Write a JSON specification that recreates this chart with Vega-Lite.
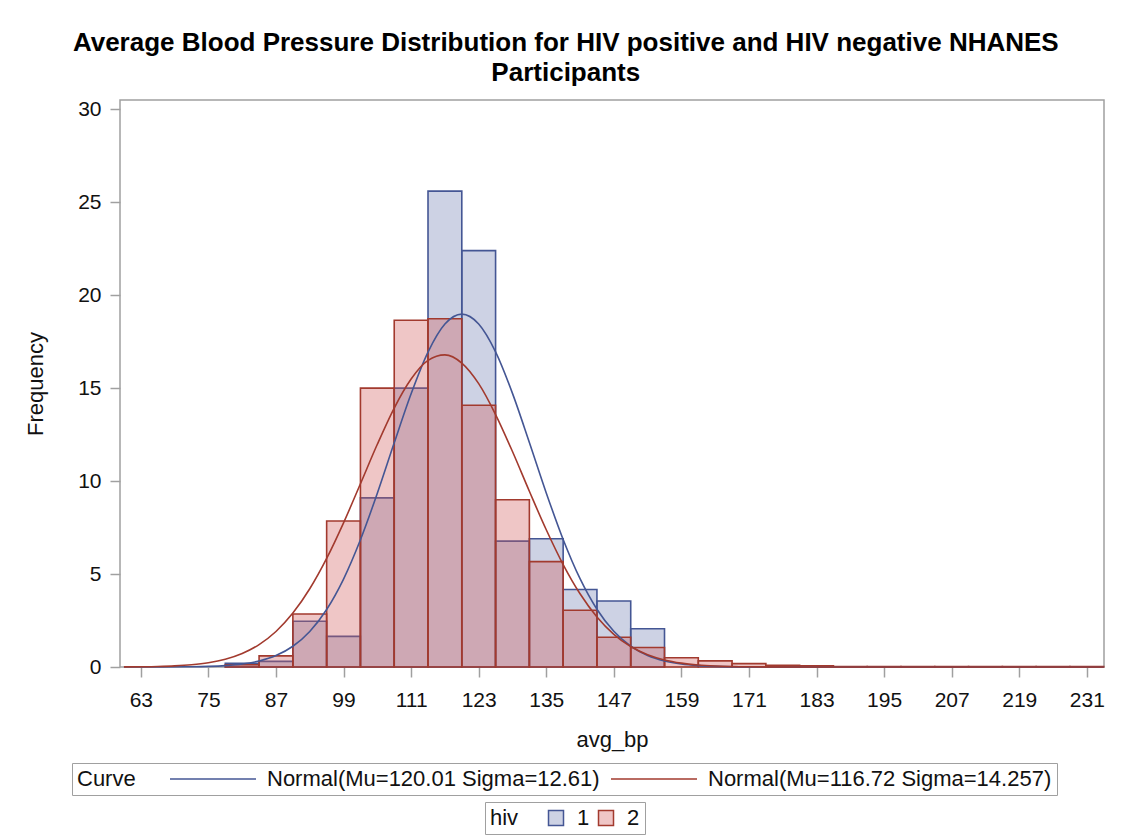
{
  "$schema": "https://vega.github.io/schema/vega-lite/v6.json",
  "width": 984,
  "height": 567,
  "autosize": {"type": "none"},
  "padding": {"left": 120, "top": 100, "right": 19, "bottom": 168},
  "background": "white",
  "title": {
    "text": ["Average Blood Pressure Distribution for HIV positive and HIV negative NHANES", "Participants"],
    "fontSize": 26,
    "fontWeight": "bold",
    "font": "Liberation Sans",
    "color": "#000000",
    "anchor": "middle",
    "frame": "bounds",
    "offset": 12,
    "lineHeight": 30
  },
  "config": {
    "font": "Liberation Sans",
    "view": {"stroke": "#A0A0A0", "strokeWidth": 1.5},
    "axis": {
      "grid": false,
      "domain": false,
      "tickColor": "#A0A0A0",
      "tickWidth": 1.5,
      "tickSize": 10,
      "labelFontSize": 21,
      "titleFontSize": 22,
      "titleFontWeight": "normal",
      "labelColor": "#111111",
      "titleColor": "#111111"
    },
    "legend": {
      "labelFontSize": 22,
      "titleFontSize": 22,
      "titleFontWeight": "normal",
      "labelColor": "#111111",
      "titleColor": "#111111",
      "labelLimit": 600
    }
  },
  "datasets": {
    "bars": [
      {"hiv": "1", "lo": 78, "hi": 84, "pct": 0.2},
      {"hiv": "1", "lo": 84, "hi": 90, "pct": 0.3},
      {"hiv": "1", "lo": 90, "hi": 96, "pct": 2.46},
      {"hiv": "1", "lo": 96, "hi": 102, "pct": 1.65},
      {"hiv": "1", "lo": 102, "hi": 108, "pct": 9.1},
      {"hiv": "1", "lo": 108, "hi": 114, "pct": 15.0},
      {"hiv": "1", "lo": 114, "hi": 120, "pct": 25.6},
      {"hiv": "1", "lo": 120, "hi": 126, "pct": 22.4},
      {"hiv": "1", "lo": 126, "hi": 132, "pct": 6.77},
      {"hiv": "1", "lo": 132, "hi": 138, "pct": 6.9},
      {"hiv": "1", "lo": 138, "hi": 144, "pct": 4.17},
      {"hiv": "1", "lo": 144, "hi": 150, "pct": 3.55},
      {"hiv": "1", "lo": 150, "hi": 156, "pct": 2.06},
      {"hiv": "2", "lo": 78, "hi": 84, "pct": 0.12},
      {"hiv": "2", "lo": 84, "hi": 90, "pct": 0.6},
      {"hiv": "2", "lo": 90, "hi": 96, "pct": 2.85},
      {"hiv": "2", "lo": 96, "hi": 102, "pct": 7.85},
      {"hiv": "2", "lo": 102, "hi": 108, "pct": 15.0},
      {"hiv": "2", "lo": 108, "hi": 114, "pct": 18.65},
      {"hiv": "2", "lo": 114, "hi": 120, "pct": 18.73},
      {"hiv": "2", "lo": 120, "hi": 126, "pct": 14.08},
      {"hiv": "2", "lo": 126, "hi": 132, "pct": 9.0},
      {"hiv": "2", "lo": 132, "hi": 138, "pct": 5.67},
      {"hiv": "2", "lo": 138, "hi": 144, "pct": 3.05},
      {"hiv": "2", "lo": 144, "hi": 150, "pct": 1.6},
      {"hiv": "2", "lo": 150, "hi": 156, "pct": 1.05},
      {"hiv": "2", "lo": 156, "hi": 162, "pct": 0.5},
      {"hiv": "2", "lo": 162, "hi": 168, "pct": 0.33},
      {"hiv": "2", "lo": 168, "hi": 174, "pct": 0.18},
      {"hiv": "2", "lo": 174, "hi": 180, "pct": 0.09},
      {"hiv": "2", "lo": 180, "hi": 186, "pct": 0.07},
      {"hiv": "2", "lo": 186, "hi": 192, "pct": 0.02},
      {"hiv": "2", "lo": 192, "hi": 198, "pct": 0.02},
      {"hiv": "2", "lo": 198, "hi": 204, "pct": 0.02},
      {"hiv": "2", "lo": 204, "hi": 210, "pct": 0.02},
      {"hiv": "2", "lo": 210, "hi": 216, "pct": 0.02},
      {"hiv": "2", "lo": 216, "hi": 222, "pct": 0.02},
      {"hiv": "2", "lo": 222, "hi": 228, "pct": 0.02},
      {"hiv": "2", "lo": 228, "hi": 234, "pct": 0.02}
    ],
    "curves": [
      {"curve": "Normal(Mu=120.01 Sigma=12.61)", "x": 60, "f": 0.0002},
      {"curve": "Normal(Mu=120.01 Sigma=12.61)", "x": 66, "f": 0.002},
      {"curve": "Normal(Mu=120.01 Sigma=12.61)", "x": 72, "f": 0.0135},
      {"curve": "Normal(Mu=120.01 Sigma=12.61)", "x": 75, "f": 0.0325},
      {"curve": "Normal(Mu=120.01 Sigma=12.61)", "x": 78, "f": 0.074},
      {"curve": "Normal(Mu=120.01 Sigma=12.61)", "x": 81, "f": 0.158},
      {"curve": "Normal(Mu=120.01 Sigma=12.61)", "x": 84, "f": 0.322},
      {"curve": "Normal(Mu=120.01 Sigma=12.61)", "x": 87, "f": 0.616},
      {"curve": "Normal(Mu=120.01 Sigma=12.61)", "x": 90, "f": 1.117},
      {"curve": "Normal(Mu=120.01 Sigma=12.61)", "x": 93, "f": 1.914},
      {"curve": "Normal(Mu=120.01 Sigma=12.61)", "x": 96, "f": 3.096},
      {"curve": "Normal(Mu=120.01 Sigma=12.61)", "x": 99, "f": 4.732},
      {"curve": "Normal(Mu=120.01 Sigma=12.61)", "x": 102, "f": 6.845},
      {"curve": "Normal(Mu=120.01 Sigma=12.61)", "x": 105, "f": 9.346},
      {"curve": "Normal(Mu=120.01 Sigma=12.61)", "x": 108, "f": 12.06},
      {"curve": "Normal(Mu=120.01 Sigma=12.61)", "x": 111, "f": 14.70},
      {"curve": "Normal(Mu=120.01 Sigma=12.61)", "x": 114, "f": 16.94},
      {"curve": "Normal(Mu=120.01 Sigma=12.61)", "x": 117, "f": 18.45},
      {"curve": "Normal(Mu=120.01 Sigma=12.61)", "x": 120, "f": 18.98},
      {"curve": "Normal(Mu=120.01 Sigma=12.61)", "x": 123, "f": 18.45},
      {"curve": "Normal(Mu=120.01 Sigma=12.61)", "x": 126, "f": 16.95},
      {"curve": "Normal(Mu=120.01 Sigma=12.61)", "x": 129, "f": 14.72},
      {"curve": "Normal(Mu=120.01 Sigma=12.61)", "x": 132, "f": 12.08},
      {"curve": "Normal(Mu=120.01 Sigma=12.61)", "x": 135, "f": 9.365},
      {"curve": "Normal(Mu=120.01 Sigma=12.61)", "x": 138, "f": 6.862},
      {"curve": "Normal(Mu=120.01 Sigma=12.61)", "x": 141, "f": 4.749},
      {"curve": "Normal(Mu=120.01 Sigma=12.61)", "x": 144, "f": 3.107},
      {"curve": "Normal(Mu=120.01 Sigma=12.61)", "x": 147, "f": 1.921},
      {"curve": "Normal(Mu=120.01 Sigma=12.61)", "x": 150, "f": 1.123},
      {"curve": "Normal(Mu=120.01 Sigma=12.61)", "x": 153, "f": 0.619},
      {"curve": "Normal(Mu=120.01 Sigma=12.61)", "x": 156, "f": 0.323},
      {"curve": "Normal(Mu=120.01 Sigma=12.61)", "x": 159, "f": 0.159},
      {"curve": "Normal(Mu=120.01 Sigma=12.61)", "x": 162, "f": 0.074},
      {"curve": "Normal(Mu=120.01 Sigma=12.61)", "x": 165, "f": 0.033},
      {"curve": "Normal(Mu=120.01 Sigma=12.61)", "x": 171, "f": 0.005},
      {"curve": "Normal(Mu=120.01 Sigma=12.61)", "x": 180, "f": 0.0001},
      {"curve": "Normal(Mu=120.01 Sigma=12.61)", "x": 234, "f": 0},
      {"curve": "Normal(Mu=116.72 Sigma=14.257)", "x": 60, "f": 0.0061},
      {"curve": "Normal(Mu=116.72 Sigma=14.257)", "x": 66, "f": 0.030},
      {"curve": "Normal(Mu=116.72 Sigma=14.257)", "x": 69, "f": 0.062},
      {"curve": "Normal(Mu=116.72 Sigma=14.257)", "x": 72, "f": 0.123},
      {"curve": "Normal(Mu=116.72 Sigma=14.257)", "x": 75, "f": 0.232},
      {"curve": "Normal(Mu=116.72 Sigma=14.257)", "x": 78, "f": 0.420},
      {"curve": "Normal(Mu=116.72 Sigma=14.257)", "x": 81, "f": 0.728},
      {"curve": "Normal(Mu=116.72 Sigma=14.257)", "x": 84, "f": 1.206},
      {"curve": "Normal(Mu=116.72 Sigma=14.257)", "x": 87, "f": 1.911},
      {"curve": "Normal(Mu=116.72 Sigma=14.257)", "x": 90, "f": 2.900},
      {"curve": "Normal(Mu=116.72 Sigma=14.257)", "x": 93, "f": 4.207},
      {"curve": "Normal(Mu=116.72 Sigma=14.257)", "x": 96, "f": 5.840},
      {"curve": "Normal(Mu=116.72 Sigma=14.257)", "x": 99, "f": 7.755},
      {"curve": "Normal(Mu=116.72 Sigma=14.257)", "x": 102, "f": 9.856},
      {"curve": "Normal(Mu=116.72 Sigma=14.257)", "x": 105, "f": 11.98},
      {"curve": "Normal(Mu=116.72 Sigma=14.257)", "x": 108, "f": 13.93},
      {"curve": "Normal(Mu=116.72 Sigma=14.257)", "x": 111, "f": 15.49},
      {"curve": "Normal(Mu=116.72 Sigma=14.257)", "x": 114, "f": 16.49},
      {"curve": "Normal(Mu=116.72 Sigma=14.257)", "x": 117, "f": 16.79},
      {"curve": "Normal(Mu=116.72 Sigma=14.257)", "x": 120, "f": 16.35},
      {"curve": "Normal(Mu=116.72 Sigma=14.257)", "x": 123, "f": 15.24},
      {"curve": "Normal(Mu=116.72 Sigma=14.257)", "x": 126, "f": 13.58},
      {"curve": "Normal(Mu=116.72 Sigma=14.257)", "x": 129, "f": 11.59},
      {"curve": "Normal(Mu=116.72 Sigma=14.257)", "x": 132, "f": 9.453},
      {"curve": "Normal(Mu=116.72 Sigma=14.257)", "x": 135, "f": 7.381},
      {"curve": "Normal(Mu=116.72 Sigma=14.257)", "x": 138, "f": 5.512},
      {"curve": "Normal(Mu=116.72 Sigma=14.257)", "x": 141, "f": 3.938},
      {"curve": "Normal(Mu=116.72 Sigma=14.257)", "x": 144, "f": 2.691},
      {"curve": "Normal(Mu=116.72 Sigma=14.257)", "x": 147, "f": 1.760},
      {"curve": "Normal(Mu=116.72 Sigma=14.257)", "x": 150, "f": 1.101},
      {"curve": "Normal(Mu=116.72 Sigma=14.257)", "x": 153, "f": 0.659},
      {"curve": "Normal(Mu=116.72 Sigma=14.257)", "x": 156, "f": 0.377},
      {"curve": "Normal(Mu=116.72 Sigma=14.257)", "x": 159, "f": 0.207},
      {"curve": "Normal(Mu=116.72 Sigma=14.257)", "x": 162, "f": 0.108},
      {"curve": "Normal(Mu=116.72 Sigma=14.257)", "x": 165, "f": 0.054},
      {"curve": "Normal(Mu=116.72 Sigma=14.257)", "x": 171, "f": 0.012},
      {"curve": "Normal(Mu=116.72 Sigma=14.257)", "x": 180, "f": 0.001},
      {"curve": "Normal(Mu=116.72 Sigma=14.257)", "x": 234, "f": 0}
    ]
  },
  "layer": [
    {
      "data": {"name": "bars"},
      "mark": {"type": "bar", "fillOpacity": 0.35, "strokeWidth": 1.6},
      "encoding": {
        "x": {
          "field": "lo",
          "type": "quantitative",
          "scale": {"domain": [59.3, 234.05], "nice": false, "zero": false},
          "axis": {"values": [63, 75, 87, 99, 111, 123, 135, 147, 159, 171, 183, 195, 207, 219, 231], "title": "avg_bp", "labelPadding": 12, "titlePadding": 19}
        },
        "x2": {"field": "hi"},
        "y": {
          "field": "pct",
          "type": "quantitative",
          "scale": {"domain": [0, 30.5], "nice": false},
          "axis": {"values": [0, 5, 10, 15, 20, 25, 30], "title": "Frequency", "labelPadding": 9, "titlePadding": 30}
        },
        "y2": {"datum": 0},
        "fill": {
          "field": "hiv",
          "type": "nominal",
          "scale": {"domain": ["1", "2"], "range": ["#6F7EB3", "#D05B5B"]},
          "legend": {
            "title": "hiv",
            "orient": "none",
            "legendX": 365,
            "legendY": 702,
            "direction": "horizontal",
            "titleOrient": "left",
            "titlePadding": 26,
            "symbolType": "square",
            "symbolSize": 225,
            "symbolStrokeWidth": 1.5,
            "labelOffset": 10,
            "columnPadding": 5,
            "strokeColor": "#A0A0A0",
            "padding": 5,
            "encode": {"symbols": {"update": {"fillOpacity": {"value": 0.35}}}}
          }
        },
        "stroke": {
          "field": "hiv",
          "type": "nominal",
          "scale": {"domain": ["1", "2"], "range": ["#445694", "#A23A2E"]},
          "legend": {
            "title": "hiv",
            "orient": "none",
            "legendX": 365,
            "legendY": 702,
            "direction": "horizontal",
            "titleOrient": "left",
            "titlePadding": 26,
            "symbolType": "square",
            "symbolSize": 225,
            "symbolStrokeWidth": 1.5,
            "labelOffset": 10,
            "columnPadding": 5,
            "strokeColor": "#A0A0A0",
            "padding": 5,
            "encode": {"symbols": {"update": {"fillOpacity": {"value": 0.35}}}}
          }
        }
      }
    },
    {
      "data": {"name": "curves"},
      "mark": {"type": "line", "interpolate": "monotone", "strokeWidth": 1.6},
      "encoding": {
        "x": {"field": "x", "type": "quantitative"},
        "y": {"field": "f", "type": "quantitative"},
        "color": {
          "field": "curve",
          "type": "nominal",
          "scale": {"domain": ["Normal(Mu=120.01 Sigma=12.61)", "Normal(Mu=116.72 Sigma=14.257)"], "range": ["#445694", "#A23A2E"]},
          "legend": {
            "title": "Curve",
            "orient": "none",
            "legendX": -48,
            "legendY": 663,
            "direction": "horizontal",
            "titleOrient": "left",
            "titlePadding": 66,
            "symbolType": "M-5.375,0H5.375",
            "symbolSize": 256,
            "symbolStrokeWidth": 1.6,
            "columnPadding": 7,
            "labelOffset": 43,
            "strokeColor": "#A0A0A0",
            "padding": 5
          }
        }
      }
    }
  ]
}
